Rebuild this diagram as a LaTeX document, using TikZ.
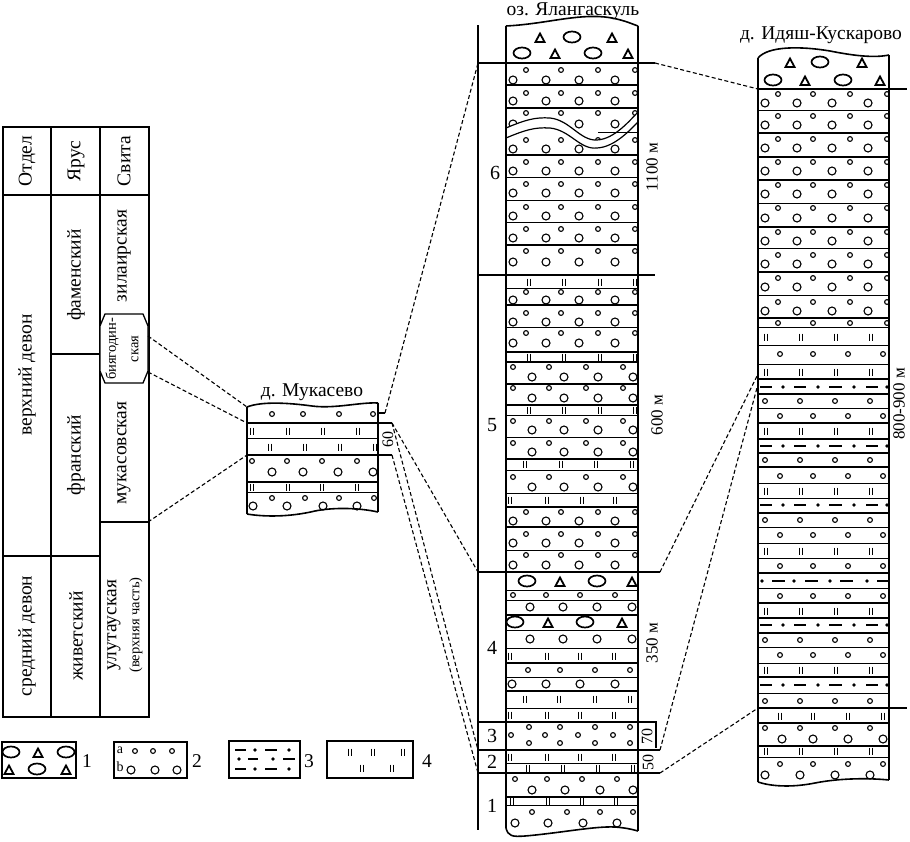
\documentclass[tikz,border=0pt]{standalone}
\usepackage{fontspec}
\setmainfont{Liberation Serif}
\newcommand\geoS[2]{\draw[line width=1.1pt] (#1,#2) circle[radius=2.4];}
\newcommand\geoB[2]{\draw[line width=1.1pt] (#1,#2) circle[radius=4];}
\newcommand\geoO[2]{\draw[line width=1.7pt] (#1,#2) ellipse[x radius=8.5, y radius=5.5];}
\newcommand\geoT[2]{\draw[line width=1.8pt,line join=miter] ({#1-4.5},{#2+4}) -- ({#1+4.5},{#2+4}) -- ({#1},{#2-4.5}) -- cycle;}
\newcommand\geoI[2]{\draw[line width=1.3pt] ({#1-1.6},{#2-3.5}) -- ({#1-1.6},{#2+3.5}) ({#1+1.6},{#2-3.5}) -- ({#1+1.6},{#2+3.5});}
\newcommand\geoDot[2]{\fill (#1,#2) circle[radius=1.8];}
\newcommand\geoDash[3]{\draw[line width=1.4pt] (#1,#3) -- (#2,#3);}
\newcommand\rowS[2]{\foreach \q in {#2}{\geoS{\q}{#1}}}
\newcommand\rowB[2]{\foreach \q in {#2}{\geoB{\q}{#1}}}
\newcommand\rowI[2]{\foreach \q in {#2}{\geoI{\q}{#1}}}
\newcommand\geoL[4]{\draw[line width=#1] (#2,#4) -- (#3,#4);}
\newcommand\mL[2]{\geoL{#1}{506}{638}{#2}}
\newcommand\rL[2]{\geoL{#1}{758}{889}{#2}}
\newcommand\mA[2]{\rowS{#1}{526,561,598,635}\rowB{#2}{513,546,579,615}}
\newcommand\mB[2]{\rowS{#1}{513,549,586,623}\rowB{#2}{532,564,598,633}}
\newcommand\rR[2]{\rowS{#1}{778,813,850,887}\rowB{#2}{765,797,832,868}}
\newcommand\rC[1]{\rowS{#1}{765,800,835,870}}
\newcommand\rD[1]{\rowS{#1}{780,813,848,883}}
\newcommand\rIC[1]{\rowI{#1}{766,801,836,871}}
\newcommand\rowDa[1]{\geoDash{760}{772}{#1}\geoDot{783}{#1}\geoDash{794}{806}{#1}\geoDot{818}{#1}\geoDash{829}{842}{#1}\geoDot{854}{#1}\geoDash{866}{878}{#1}\geoDot{887}{#1}}
\newcommand\rowDb[1]{\geoDot{762}{#1}\geoDash{772}{785}{#1}\geoDot{794}{#1}\geoDash{805}{818}{#1}\geoDot{830}{#1}\geoDash{840}{853}{#1}\geoDot{867}{#1}\geoDash{877}{890}{#1}}
\begin{document}
\begin{tikzpicture}[x=1pt,y=-1pt,
  edge/.style={line width=2.3pt},
  wave/.style={line width=1.6pt},
  conn/.style={line width=1.1pt, dash pattern=on 4pt off 2.5pt},
  tick/.style={line width=1.1pt},
  boxl/.style={line width=1.9pt},
  lbl/.style={font=\fontsize{19.5}{22}\selectfont, inner sep=0pt},
  rlbl/.style={lbl, rotate=90},
  srlbl/.style={font=\fontsize{14.5}{16}\selectfont, inner sep=0pt, rotate=90},
  numl/.style={font=\fontsize{20}{22}\selectfont, inner sep=0pt},
]
\useasboundingbox (0,0) rectangle (910,841);

% ================= TABLE =================
\draw[line width=1.9pt] (3,127) rectangle (149,717);
\draw[line width=1.6pt] (51,127) -- (51,717) (100,127) -- (100,717)
  (3,195) -- (149,195) (3,556) -- (100,556) (51,354) -- (100,354) (100,522) -- (149,522);
\draw[line width=1.3pt, fill=white] (105,314) -- (143,314) -- (148,326) -- (148,371) -- (143,383)
  -- (105,383) -- (100,371) -- (100,326) -- cycle;
\node[rlbl] (tOtdel) at (27,161) {Отдел};
\node[rlbl] (tYarus) at (76,161) {Ярус};
\node[rlbl] (tSvita) at (124,161) {Свита};
\node[rlbl] (tUpper) at (27,375) {верхний девон};
\node[rlbl] (tMiddle) at (27,636) {средний девон};
\node[rlbl] (tFam) at (76,275) {фаменский};
\node[rlbl] (tFran) at (76,455) {франский};
\node[rlbl] (tZhiv) at (76,636) {живетский};
\node[rlbl] (tZil) at (124,256) {зилаирская};
\node[srlbl] (tBiy1) at (112,349) {биягодин-};
\node[srlbl] (tBiy2) at (135,349) {ская};
\node[rlbl] (tMuk) at (124,453) {мукасовская};
\node[rlbl] (tUlu) at (114,625) {улутауская};
\node[srlbl] (tUlu2) at (136,625) {(верхняя часть)};

% ================= MUKASEVO =================
\node[lbl] (tMukT) at (312,392) {д. Мукасево};
\begin{scope}
\clip (247,380) rectangle (378,530);
\rowS{414}{272,303,339,373}
\geoL{1.9pt}{247}{378}{423}
\rowI{431}{252,288,323,358}
\geoL{1pt}{247}{378}{438}
\rowI{447}{270,305,340,375}
\geoL{1.9pt}{247}{378}{455}
\rowS{461}{252,287,322,357}\rowB{472}{272,303,338,373}
\geoL{1.9pt}{247}{378}{482}
\rowI{487}{252,288,322,357}
\geoL{1pt}{247}{378}{492}
\rowS{498}{272,305,339,374}\rowB{506}{253,287,323,357}
\end{scope}
\draw[wave] (247,407) .. controls (262,401) and (290,403) .. (312,406) .. controls (335,409) and (360,402) .. (378,403);
\draw[wave] (247,514) .. controls (265,517) and (290,517) .. (315,511) .. controls (335,507) and (360,508) .. (378,512);
\draw[edge] (247,407) -- (247,514) (378,403) -- (378,512);
\node[font=\fontsize{16}{18}\selectfont, inner sep=0pt, rotate=90] (t60) at (388,439) {60};

% ================= YALANGASKUL =================
\node[lbl] (tYal) at (573,11) {оз. Ялангаскуль};
\begin{scope}
\clip (506,0) rectangle (638,841);
\geoT{540}{38}\geoO{572}{37}\geoT{612}{38}
\geoO{522}{53}\geoT{555}{54}\geoO{593}{53}\geoT{628}{54}
% unit 6
\mA{70}{80} \mL{1.9pt}{85}
\mA{93}{101} \mL{1.9pt}{108}
\rowS{113}{526,561,598,635}\rowB{124}{513,546,579,615}\rowS{140}{526,561,598,635}\rowB{149}{513,546,579,615}
\fill[white] (506,128) .. controls (525,120) and (535,117) .. (550,118) .. controls (570,120) and (580,141) .. (597,140) .. controls (615,139) and (630,120) .. (640,110)
 -- (640,120) .. controls (630,130) and (615,147) .. (597,148) .. controls (580,150) and (570,130) .. (550,128) .. controls (535,127) and (525,130) .. (506,138) -- cycle;
\draw[line width=1.2pt] (506,128) .. controls (525,120) and (535,117) .. (550,118) .. controls (570,120) and (580,141) .. (597,140) .. controls (615,139) and (630,120) .. (640,110);
\draw[line width=1.2pt] (506,138) .. controls (525,130) and (535,127) .. (550,128) .. controls (570,130) and (580,150) .. (597,148) .. controls (615,147) and (630,130) .. (640,120);
\geoL{1pt}{598}{638}{132}
\mL{1.9pt}{155}
\mA{162}{171} \mL{1pt}{177}
\mA{184}{193} \mL{1pt}{200}
\mA{207}{216} \mL{1pt}{222}
\mA{229}{238} \mL{1.9pt}{245}
\mA{251}{262}
% unit 5
\rowI{282}{529,564,600,635} \mL{1pt}{288}
\mA{292}{300} \mL{1.9pt}{305}
\mA{313}{322} \mL{1pt}{327}
\mA{333}{343} \mL{1.9pt}{352}
\rowI{357}{529,564,600,635} \mL{1.9pt}{362}
\mB{367}{377} \mL{1.9pt}{384}
\mB{388}{398} \mL{1.9pt}{405}
\rowI{410}{529,564,600,635} \mL{1pt}{415}
\mB{421}{430} \mL{1pt}{437}
\mB{443}{452} \mL{1.9pt}{459}
\rowI{464}{525,561,596,632} \mL{1pt}{470}
\mB{477}{487} \mL{1pt}{493}
\rowI{500}{510,547,582,615} \mL{1.9pt}{507}
\mA{512}{521} \mL{1.9pt}{527}
\mA{534}{543} \mL{1pt}{550}
\mA{555}{565}
% unit 4
\geoO{527}{581}\geoT{560}{582}\geoO{597}{581}\geoT{632}{582} \mL{1pt}{590}
\rowS{595}{513,546,580,615} \mL{1pt}{600}
\rowB{607}{530,563,597,632} \mL{1.9pt}{615}
\geoO{515}{622}\geoT{548}{623}\geoO{585}{622}\geoT{622}{623} \mL{1pt}{630}
\rowB{639}{530,563,597,632} \mL{1pt}{648}
\rowI{656}{510,547,580,614} \mL{1.9pt}{663}
\rowS{670}{528,560,595,630} \mL{1pt}{677}
\rowB{684}{512,546,580,615} \mL{1.9pt}{691}
\rowI{699}{525,559,595,630} \mL{1pt}{708}
\rowI{715}{510,547,580,614}
% unit 3
\rowS{727}{529,560,595,630}\rowS{735}{511,545,578,613}\rowS{743}{529,560,595,630}
% unit 2
\rowI{757}{510,547,580,614} \mL{1pt}{763} \rowI{768}{528,563,598,633}
% unit 1
\rowS{779}{515,547,582,617}\rowB{790}{532,565,600,633} \mL{1.9pt}{797}
\rowI{801}{512,548,582,616} \mL{1pt}{805}
\rowS{812}{532,567,600,633}\rowB{823}{515,548,583,617}
\end{scope}
\draw[wave] (506,26) .. controls (545,24) and (575,14) .. (605,17) .. controls (622,19) and (632,24) .. (638,26);
\draw[wave] (506,828) .. controls (508,836) and (512,837) .. (525,836) .. controls (560,833) and (595,826) .. (615,827) .. controls (628,828) and (634,830) .. (638,831);
\draw[edge] (506,26) -- (506,828) (638,26) -- (638,831);
% axis and unit boundaries
\coordinate (axT) at (478,25); \coordinate (axB) at (478,830);
\draw[tick] (axT) -- (axB);
\coordinate (b6L) at (478,63);  \coordinate (b6R) at (655,63);
\coordinate (b5L) at (478,275); \coordinate (b5R) at (655,275);
\coordinate (b4L) at (478,572); \coordinate (b4R) at (660,572);
\coordinate (b3L) at (478,722); \coordinate (b3R) at (656,722);
\coordinate (b2L) at (478,750); \coordinate (b2R) at (660,750);
\coordinate (b1L) at (478,773); \coordinate (b1R) at (660,773);
\coordinate (b70) at (656,748);
\draw[tick] (b6L) -- (b6R) (b5L) -- (b5R) (b4L) -- (b4R);
\draw[boxl] (b3L) -- (b3R) -- (b70) (b2L) -- (b2R) (b1L) -- (b1R);
\node[numl] (n6) at (495,173) {6};
\node[numl] (n5) at (492,425) {5};
\node[numl] (n4) at (492,648) {4};
\node[numl] (n3) at (492,736) {3};
\node[numl] (n2) at (492,762) {2};
\node[numl] (n1) at (492,806) {1};
\node[font=\fontsize{17}{18}\selectfont, inner sep=0pt, rotate=90] (l1100) at (652,167) {1100 м};
\node[font=\fontsize{17}{18}\selectfont, inner sep=0pt, rotate=90] (l600) at (657,415) {600 м};
\node[font=\fontsize{17}{18}\selectfont, inner sep=0pt, rotate=90] (l350) at (652,643) {350 м};
\node[font=\fontsize{16}{18}\selectfont, inner sep=0pt, rotate=90] (l70) at (647,736) {70};
\node[font=\fontsize{16}{18}\selectfont, inner sep=0pt, rotate=90] (l50) at (648,762) {50};

% ================= IDYASH-KUSKAROVO =================
\node[lbl] (tIdy) at (821,35) {д. Идяш-Кускарово};
\begin{scope}
\clip (758,40) rectangle (889,800);
\geoT{790}{63}\geoO{820}{62}\geoT{862}{63}
\geoO{773}{80}\geoT{805}{81}\geoO{843}{80}\geoT{880}{81}
\rR{94}{103} \rL{1pt}{110}
\rR{116}{125} \rL{1.9pt}{133}
\rR{139}{148} \rL{1.9pt}{157}
\rR{162}{171} \rL{1.9pt}{180}
\rR{185}{194} \rL{1pt}{203}
\rR{208}{218} \rL{1.9pt}{227}
\rR{232}{241} \rL{1pt}{248}
\rR{255}{264} \rL{1.9pt}{272}
\rR{278}{287} \rL{1pt}{295}
\rR{302}{311} \rL{1.9pt}{318}
\rowS{323}{778,813,850,887} \rL{1pt}{327}
\rIC{337} \rL{1pt}{345}
\rD{354} \rL{1pt}{364}
\rIC{372} \rL{1.9pt}{379}
\rowDa{387} \rL{1.9pt}{394}
\rC{401} \rL{1pt}{408}
\rD{416} \rL{1.9pt}{423}
\rIC{431} \rL{1.9pt}{439}
\rowDa{446} \rL{1.9pt}{453}
\rC{460} \rL{1.9pt}{467}
\rD{476} \rL{1pt}{483}
\rIC{491} \rL{1pt}{498}
\rowDa{505} \rL{1.9pt}{513}
\rC{520} \rL{1pt}{527}
\rD{535} \rL{1pt}{543}
\rIC{551} \rL{1pt}{558}
\rD{566} \rL{1.9pt}{573}
\rowDb{581} \rL{1pt}{588}
\rD{596} \rL{1.9pt}{603}
\rIC{611} \rL{1.9pt}{618}
\rowDa{625} \rL{1.9pt}{633}
\rC{640} \rL{1pt}{647}
\rD{655} \rL{1pt}{663}
\rIC{670} \rL{1.9pt}{677}
\rowDa{685} \rL{1pt}{693}
\rC{701}
\rowI{716}{780,813,848,883} \rL{1.9pt}{723}
\rC{728}\rowB{739}{782,813,848,883} \rL{1.9pt}{746}
\rIC{751} \rL{1pt}{757}
\rD{764}\rowB{775}{765,800,835,870}
\end{scope}
\draw[wave] (758,58) .. controls (768,46) and (800,46) .. (830,51) .. controls (855,56) and (875,58) .. (889,55);
\draw[wave] (758,782) .. controls (770,786) and (790,788) .. (815,783) .. controls (840,778) and (870,778) .. (889,780);
\draw[edge] (758,58) -- (758,782) (889,55) -- (889,780);
\coordinate (r1L) at (758,89);  \coordinate (r1R) at (907,89);
\coordinate (r2L) at (758,708); \coordinate (r2R) at (907,708);
\coordinate (r3) at (758,374); \coordinate (r4) at (758,384);
\draw[line width=1.5pt] (r1L) -- (r1R);
\draw[tick] (r2L) -- (r2R);
\node[font=\fontsize{17}{18}\selectfont, inner sep=0pt, rotate=90] (l800) at (899,404) {800-900 м};

% ================= CONNECTORS =================
\coordinate (h1) at (148,336); \coordinate (h2) at (148,372); \coordinate (h3) at (148,522);
\coordinate (m1) at (247,407); \coordinate (m2) at (247,423); \coordinate (m3) at (247,455);
\draw[conn] (h1) -- (m1);
\draw[conn] (h2) -- (m2);
\draw[conn] (h3) -- (m3);
\coordinate (k0) at (378,413); \coordinate (k1) at (385,413);
\coordinate (k2a) at (378,423); \coordinate (k2) at (392,423);
\coordinate (k3a) at (378,455); \coordinate (k3) at (392,455);
\draw[tick] (k0) -- (k1) (k2a) -- (k2) (k3a) -- (k3);
\draw[conn] (k1) -- (b6L);
\draw[conn] (k2) -- (b4L);
\draw[conn] (k2) -- (b2L);
\draw[conn] (k3) -- (b1L);
\draw[conn] (b6R) -- (r1L);
\draw[conn] (b4R) -- (r3);
\draw[conn] (b2R) -- (r4);
\draw[conn] (b1R) -- (r2L);

% ================= LEGEND =================
\draw[line width=1.6pt] (2,742) rectangle (76,778);
\geoO{11}{752}\geoT{38}{753}\geoO{66}{752}
\geoT{9}{770}\geoO{37}{769}\geoT{66}{770}
\node[lbl] (lg1) at (87,761) {1};
\draw[line width=1.6pt] (114,742) rectangle (187,778);
\node[font=\fontsize{14}{15}\selectfont, inner sep=0pt] (la) at (120,750) {a};
\node[font=\fontsize{14}{15}\selectfont, inner sep=0pt] (lb) at (120,767) {b};
\rowS{751}{135,153,172}
\rowB{770}{131,155,177}
\node[lbl] (lg2) at (197,761) {2};
\draw[line width=1.6pt] (229,741) rectangle (300,778);
\geoDash{235}{246}{750}\geoDot{255}{750}\geoDash{265}{277}{750}\geoDot{289}{750}
\geoDot{239}{759}\geoDash{248}{258}{759}\geoDot{273}{759}\geoDash{283}{295}{759}
\geoDash{235}{246}{769}\geoDot{255}{769}\geoDash{265}{277}{769}\geoDot{289}{769}
\node[lbl] (lg3) at (309,761) {3};
\draw[line width=1.6pt] (327,741) rectangle (413,778);
\geoI{350}{752}\geoI{373}{752}\geoI{403}{752}
\geoI{362}{768}\geoI{392}{768}
\node[lbl] (lg4) at (427,761) {4};
\end{tikzpicture}
\end{document}
